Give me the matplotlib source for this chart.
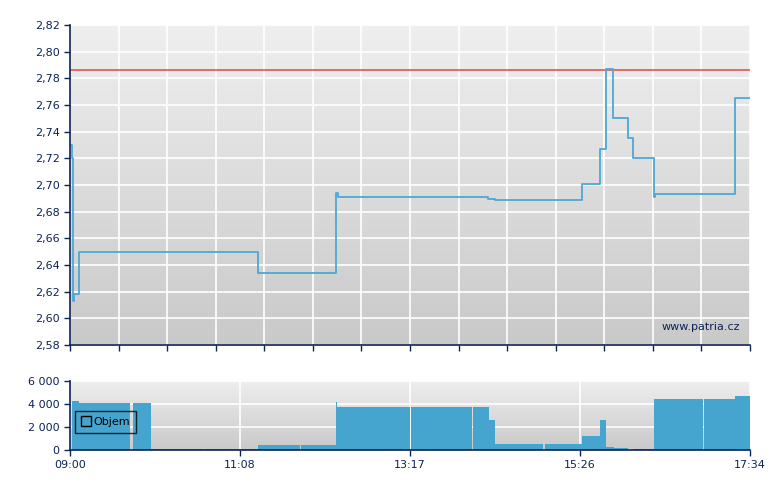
import numpy as np
import matplotlib
matplotlib.use("Agg")
import matplotlib.pyplot as plt
from matplotlib.lines import Line2D

# ---- data (times in minutes after 09:00) ----
price_t = [0, 1.5, 1.9, 3.4, 6.8, 142.3, 201.3, 202.2, 316.2, 321.3, 387.2, 400.4,
           404.9, 410.7, 421.5, 425.3, 441.2, 442.2, 502.4, 514]
price_v = [2.73, 2.72, 2.613, 2.618, 2.65, 2.634, 2.694, 2.691, 2.6897, 2.689, 2.701, 2.727,
           2.787, 2.75, 2.735, 2.72, 2.691, 2.693, 2.765, 2.765]
ref_price = 2.786

vol_start = [1.5, 6.8, 47.6, 61.2, 102.0, 142.3, 174.6, 201.0, 201.8, 257.6, 272.9, 304.3, 316.5,
             321.3, 358.7, 386.8, 400.6, 404.9, 411.2, 425.8, 441.4, 479.5, 502.6]
vol_end = [6.8, 45.4, 61.2, 101.3, 142.3, 173.9, 201.0, 201.8, 256.8, 272.5, 303.9, 316.5, 321.3,
           357.9, 386.8, 400.6, 404.9, 411.2, 421.8, 441.4, 478.8, 502.6, 514]
vol_v = [4200, 4050, 4050, 100, 100, 450, 450, 4150, 3700, 3700, 3700, 3700, 2600,
         520, 520, 1200, 2600, 250, 170, 90, 4400, 4400, 4680]

price_ticks = [2.58, 2.60, 2.62, 2.64, 2.66, 2.68, 2.70, 2.72, 2.74, 2.76, 2.78, 2.80, 2.82]
vol_ticks = [0, 2000, 4000, 6000]
time_labels = ["09:00", "11:08", "13:17", "15:26", "17:34"]
total_minutes = 514

navy = "#0b2356"
line_col = "#4ea8d4"
bar_col = "#45a5cf"

fig = plt.figure(figsize=(7.8, 4.9), dpi=100)
ax = fig.add_axes([70/780, 1-345/490, 680/780, 320/490])
ax2 = fig.add_axes([70/780, 1-450/490, 680/780, 69.3/490])

def gradient(a, top, bottom):
    g = np.linspace(0, 1, 256).reshape(-1, 1)
    t = np.array(matplotlib.colors.to_rgb(top))
    b = np.array(matplotlib.colors.to_rgb(bottom))
    img = t[None, None, :] * (1 - g[:, :, None]) + b[None, None, :] * g[:, :, None]
    a.imshow(img, extent=[0, 1, 0, 1], transform=a.transAxes, aspect="auto", zorder=0)

for a in (ax, ax2):
    gradient(a, "#efefef", "#c9c9c9")
    for s in ("top", "right"):
        a.spines[s].set_visible(False)
    for s in ("left", "bottom"):
        a.spines[s].set_color(navy)
        a.spines[s].set_linewidth(1.2)
        a.spines[s].set_zorder(5)
    a.tick_params(colors=navy, labelcolor=navy, labelsize=8, length=4, width=1)
    a.set_xlim(0, total_minutes)

# main chart
ax.set_ylim(2.58, 2.82)
ax.set_yticks(price_ticks)
ax.set_yticklabels([f"{v:.2f}".replace(".", ",") for v in price_ticks])
ax.set_xticks(np.linspace(0, total_minutes, 15))
ax.set_xticklabels([])
ax.grid(True, color="white", linewidth=1.2, zorder=1)
for gl in ax.get_xgridlines() + ax.get_ygridlines():
    gl.set_zorder(1)
ax.axhline(ref_price, color="#e03a3a", linewidth=1.2, alpha=0.85, zorder=2)
ax.step(price_t, price_v, where="post", color=line_col, linewidth=1.3, zorder=3)
ax.text(0.985, 0.055, "www.patria.cz", transform=ax.transAxes, ha="right", va="center",
        color=navy, fontsize=8, zorder=4)

# volume chart
ax2.set_ylim(0, 6000)
ax2.set_yticks(vol_ticks)
ax2.set_yticklabels([f"{v:,}".replace(",", " ") for v in vol_ticks])
ax2.set_xticks(np.linspace(0, total_minutes, 5))
ax2.set_xticklabels(time_labels)
ax2.grid(True, color="white", linewidth=1.2, zorder=1)
for gl in ax2.get_xgridlines() + ax2.get_ygridlines():
    gl.set_zorder(1)
widths = [e - s for s, e in zip(vol_start, vol_end)]
ax2.bar(vol_start, vol_v, width=widths, align="edge", color=bar_col, linewidth=0, zorder=2)
handle = Line2D([], [], marker="s", linestyle="none", markersize=7,
                markerfacecolor="none", markeredgecolor="black", markeredgewidth=1)
leg = ax2.legend([handle], ["Objem"], loc="lower left", bbox_to_anchor=(0.0075, 0.24),
                 borderaxespad=0, frameon=True, fancybox=False, fontsize=8, handlelength=0.8,
                 handletextpad=0.3, borderpad=0.55)
leg.get_frame().set_edgecolor("black")
leg.get_frame().set_facecolor("none")
leg.get_frame().set_linewidth(1)
leg.set_zorder(6)

fig.savefig("out.png", dpi=100)
